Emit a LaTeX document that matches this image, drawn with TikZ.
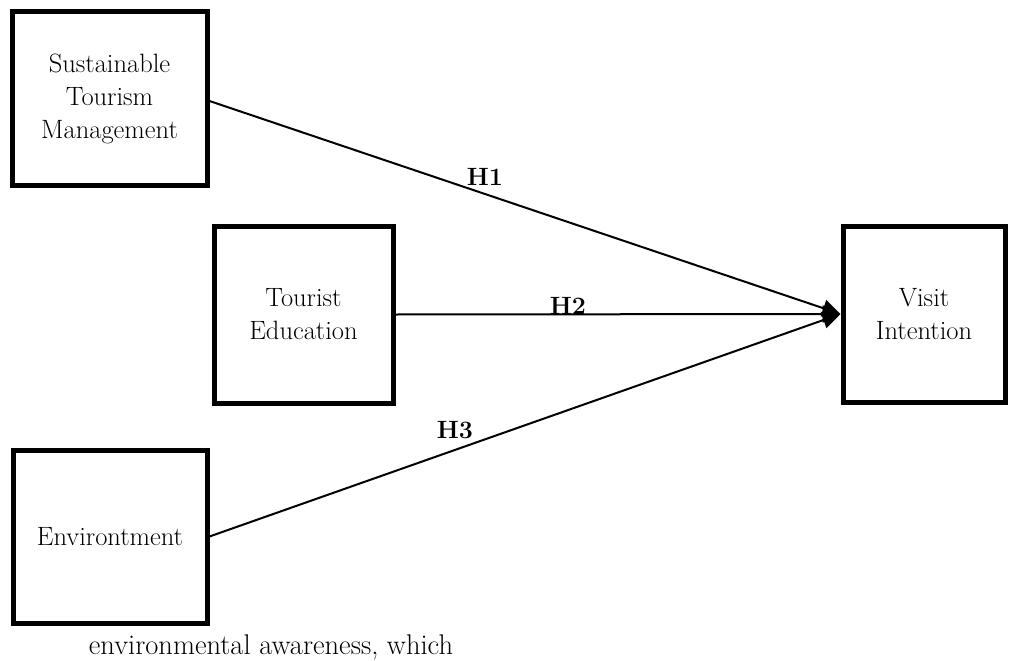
\documentclass[tikz,border=0pt]{standalone}
\usetikzlibrary{arrows.meta}
\begin{document}
\begin{tikzpicture}[x=1pt,y=-1pt,
  box/.style={draw, line width=5pt, align=center, inner sep=0pt, font=\fontsize{26.5}{33}\selectfont},
  link/.style={line width=2pt, -{Triangle[length=18pt,width=17pt]}},
  hlabel/.style={font=\fontsize{25}{30}\selectfont\bfseries, inner sep=0pt}]
\useasboundingbox (0,0) rectangle (1012,661);
\node[box, minimum width=195pt, minimum height=173pt] (stm) at (109.5,98.5) {Sustainable\\Tourism\\Management};
\node[box, minimum width=179pt, minimum height=177pt] (te) at (303.5,314.5) {Tourist\\Education};
\node[box, minimum width=162pt, minimum height=176pt] (vi) at (924,314) {Visit\\Intention};
\node[box, minimum width=194pt, minimum height=173pt] (env) at (110,536.5) {Environtment};
\draw[link] ([yshift=-2.5pt]stm.east) -- (vi.west);
\draw[link] (te.east) -- (vi.west);
\draw[link] (env.east) -- (vi.west);
\node[hlabel] (h1) at (485,177) {H1};
\node[hlabel] (h2) at (568,306) {H2};
\node[hlabel] (h3) at (455,430) {H3};
\node[font=\fontsize{28.5}{32}\selectfont, inner sep=0pt] (cap) at (271,647) {environmental awareness, which};
\end{tikzpicture}
\end{document}
